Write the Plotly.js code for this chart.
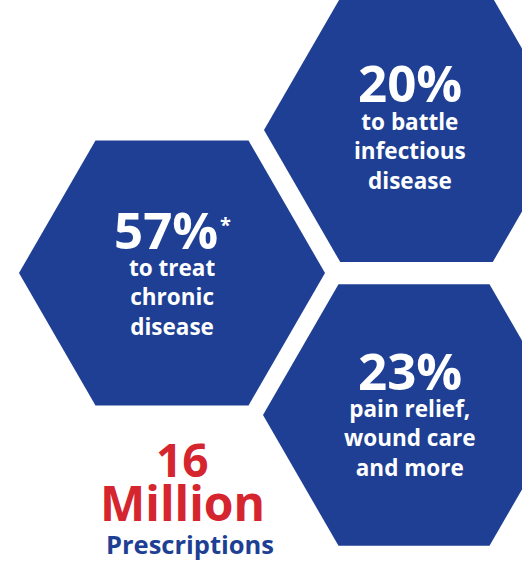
<!DOCTYPE html>
<html>
<head>
<meta charset="utf-8">
<script src="https://cdn.plot.ly/plotly-3.0.1.min.js"></script>
<style>html,body{margin:0;padding:0;background:#fff;}#chart{width:522px;height:564px;}</style>
</head>
<body>
<div id="chart"></div>
<script>
// ---- data ----
const shareValues = [57, 20, 23];
const shareLabels = ['to treat<br>chronic<br>disease', 'to battle<br>infectious<br>disease', 'pain relief,<br>wound care<br>and more'];
const shareNotes = ['*', '', ''];
const totalValue = 16;
const totalUnit = 'Million';
const totalLabel = 'Prescriptions';

// ---- layout (pixel-like coordinates) ----
const BLUE = '#1e3f94';
const RED = '#d5252e';
const FONT = 'Open Sans, DejaVu Sans, sans-serif';
const hexCentres = [[172, 273], [416.5, 130], [414, 415]];
const hexRadius = [153, 152.5, 151];
const pctPos = [[166, 229], [410, 82], [410, 370]];
const labelPos = [[172, 297], [410, 151], [410, 438]];

const traces = hexCentres.map((c, i) => {
  const xs = [], ys = [];
  for (let k = 0; k <= 6; k++) {
    const a = Math.PI / 3 * k;
    xs.push(c[0] + hexRadius[i] * Math.cos(a));
    ys.push(c[1] + hexRadius[i] * Math.sin(a));
  }
  return {x: xs, y: ys, type: 'scatter', mode: 'lines', fill: 'toself',
          fillcolor: BLUE, line: {width: 0, color: BLUE}, hoverinfo: 'skip', showlegend: false};
});

const annotations = [];
shareValues.forEach((v, i) => {
  annotations.push({x: pctPos[i][0], y: pctPos[i][1], xref: 'x', yref: 'y', showarrow: false,
    text: v + '%', xanchor: 'center', yanchor: 'middle',
    font: {family: FONT, size: 51, color: '#fff', weight: 700}});
  annotations.push({x: labelPos[i][0], y: labelPos[i][1], xref: 'x', yref: 'y', showarrow: false,
    text: shareLabels[i], xanchor: 'center', yanchor: 'middle', align: 'center',
    font: {family: FONT, size: 22.5, color: '#fff', weight: 700}});
  if (shareNotes[i]) {
    annotations.push({x: pctPos[i][0] + 59, y: pctPos[i][1] - 5, xref: 'x', yref: 'y', showarrow: false,
      text: shareNotes[i], xanchor: 'center', yanchor: 'middle',
      font: {family: FONT, size: 20, color: '#fff', weight: 700}});
  }
});
annotations.push({x: 182, y: 459, xref: 'x', yref: 'y', showarrow: false, text: String(totalValue),
  xanchor: 'center', yanchor: 'middle', font: {family: FONT, size: 46, color: RED, weight: 700}});
annotations.push({x: 182, y: 502, xref: 'x', yref: 'y', showarrow: false, text: totalUnit,
  xanchor: 'center', yanchor: 'middle', font: {family: FONT, size: 48, color: RED, weight: 700}});
annotations.push({x: 190, y: 544, xref: 'x', yref: 'y', showarrow: false, text: totalLabel,
  xanchor: 'center', yanchor: 'middle', font: {family: FONT, size: 25.5, color: BLUE, weight: 700}});

const layout = {
  width: 522, height: 564,
  margin: {l: 0, r: 0, t: 0, b: 0},
  paper_bgcolor: '#fff', plot_bgcolor: '#fff',
  xaxis: {range: [0, 522], visible: false, fixedrange: true},
  yaxis: {range: [564, 0], visible: false, fixedrange: true},
  annotations: annotations,
  showlegend: false
};
Plotly.newPlot('chart', traces, layout, {displayModeBar: false, staticPlot: true});
</script>
</body>
</html>
